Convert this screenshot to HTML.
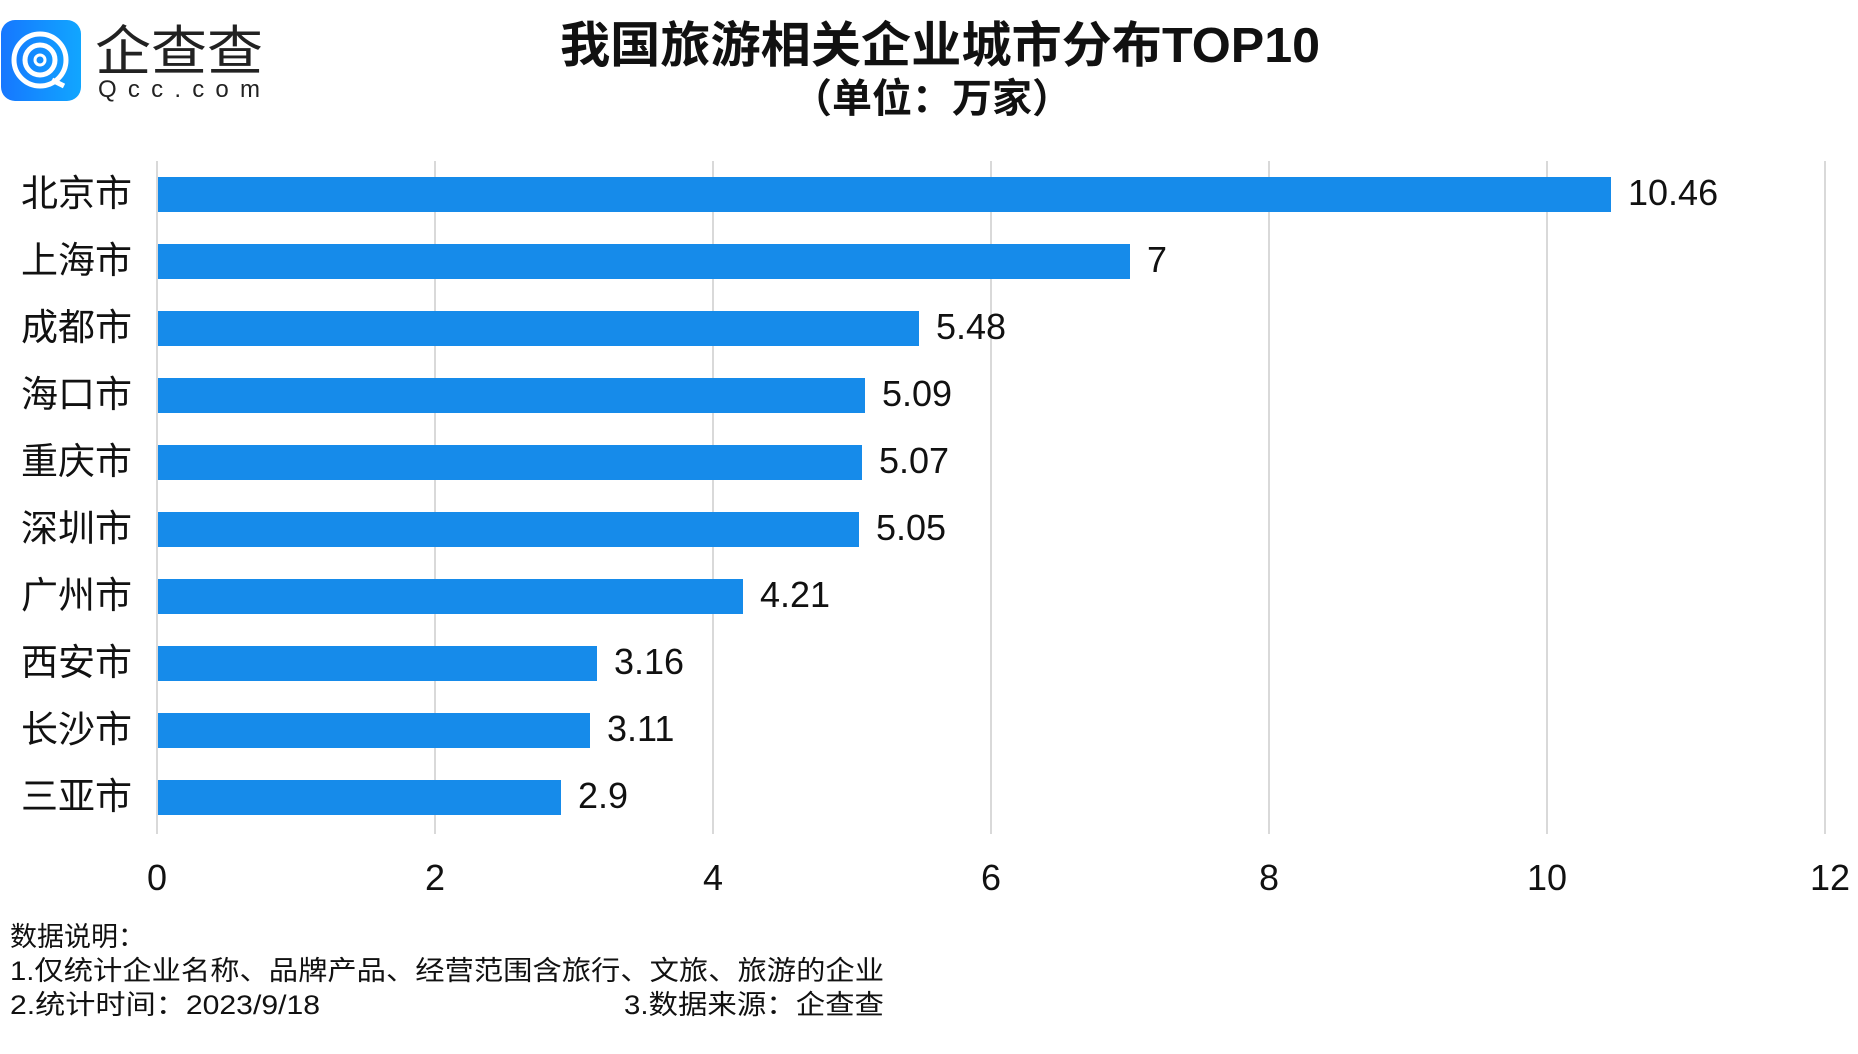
<!DOCTYPE html>
<html><head><meta charset="utf-8"><style>
html,body{margin:0;padding:0;background:#fff;}
svg{display:block;}
text{font-family:"Liberation Sans","Noto Sans CJK SC",sans-serif;}
</style></head><body>
<svg width="1858" height="1054" viewBox="0 0 1858 1054" xmlns="http://www.w3.org/2000/svg">
<defs><linearGradient id="lg" x1="0" x2="1" y1="0" y2="0"><stop offset="0" stop-color="#1677ff"/><stop offset="1" stop-color="#11a6ff"/></linearGradient></defs>
<rect x="1" y="20" width="80" height="81" rx="14" fill="url(#lg)"/>
<circle cx="40" cy="60" r="26" fill="none" stroke="#fff" stroke-width="5"/>
<circle cx="40" cy="60" r="15" fill="none" stroke="#fff" stroke-width="5"/>
<circle cx="40" cy="60" r="5" fill="none" stroke="#fff" stroke-width="3"/>
<path d="M52 80 L64 86" stroke="#fff" stroke-width="5"/>
<text x="95" y="70" font-size="54" fill="#222" textLength="168" lengthAdjust="spacingAndGlyphs">企查查</text>
<text x="98" y="97" font-size="24" fill="#222" textLength="162" lengthAdjust="spacing">Qcc.com</text>
<text x="940" y="62" font-size="49" font-weight="bold" text-anchor="middle" fill="#111" textLength="760" lengthAdjust="spacingAndGlyphs">我国旅游相关企业城市分布TOP10</text>
<text x="932" y="112" font-size="40" font-weight="bold" text-anchor="middle" fill="#111">（单位：万家）</text>
<g stroke="#d9d9d9" stroke-width="2">
<line x1="157" y1="161" x2="157" y2="834"/><line x1="435" y1="161" x2="435" y2="834"/><line x1="713" y1="161" x2="713" y2="834"/><line x1="991" y1="161" x2="991" y2="834"/><line x1="1269" y1="161" x2="1269" y2="834"/><line x1="1547" y1="161" x2="1547" y2="834"/><line x1="1825" y1="161" x2="1825" y2="834"/>
</g>
<g fill="#168bea">
<rect x="158" y="177" width="1453" height="35"/>
<rect x="158" y="244" width="972" height="35"/>
<rect x="158" y="311" width="761" height="35"/>
<rect x="158" y="378" width="707" height="35"/>
<rect x="158" y="445" width="704" height="35"/>
<rect x="158" y="512" width="701" height="35"/>
<rect x="158" y="579" width="585" height="35"/>
<rect x="158" y="646" width="439" height="35"/>
<rect x="158" y="713" width="432" height="35"/>
<rect x="158" y="780" width="403" height="35"/>
</g>
<g font-size="37" fill="#111">
<text x="21" y="206">北京市</text><text x="21" y="273">上海市</text><text x="21" y="340">成都市</text><text x="21" y="407">海口市</text><text x="21" y="474">重庆市</text><text x="21" y="541">深圳市</text><text x="21" y="608">广州市</text><text x="21" y="675">西安市</text><text x="21" y="742">长沙市</text><text x="21" y="809">三亚市</text>
</g>
<g font-size="36" fill="#111">
<text x="1628" y="205">10.46</text><text x="1147" y="272">7</text><text x="936" y="339">5.48</text><text x="882" y="406">5.09</text><text x="879" y="473">5.07</text><text x="876" y="540">5.05</text><text x="760" y="607">4.21</text><text x="614" y="674">3.16</text><text x="607" y="741">3.11</text><text x="578" y="808">2.9</text>
</g>
<g font-size="36" fill="#111" text-anchor="middle">
<text x="157" y="890">0</text><text x="435" y="890">2</text><text x="713" y="890">4</text><text x="991" y="890">6</text><text x="1269" y="890">8</text><text x="1547" y="890">10</text><text x="1830" y="890">12</text>
</g>
<g font-size="27" fill="#111">
<text x="10" y="946">数据说明：</text>
<text x="10" y="980" textLength="874" lengthAdjust="spacingAndGlyphs">1.仅统计企业名称、品牌产品、经营范围含旅行、文旅、旅游的企业</text>
<text x="10" y="1014" textLength="310" lengthAdjust="spacingAndGlyphs">2.统计时间：2023/9/18</text>
<text x="884" y="1014" text-anchor="end" textLength="260" lengthAdjust="spacingAndGlyphs">3.数据来源：企查查</text>
</g>
</svg>
</body></html>
